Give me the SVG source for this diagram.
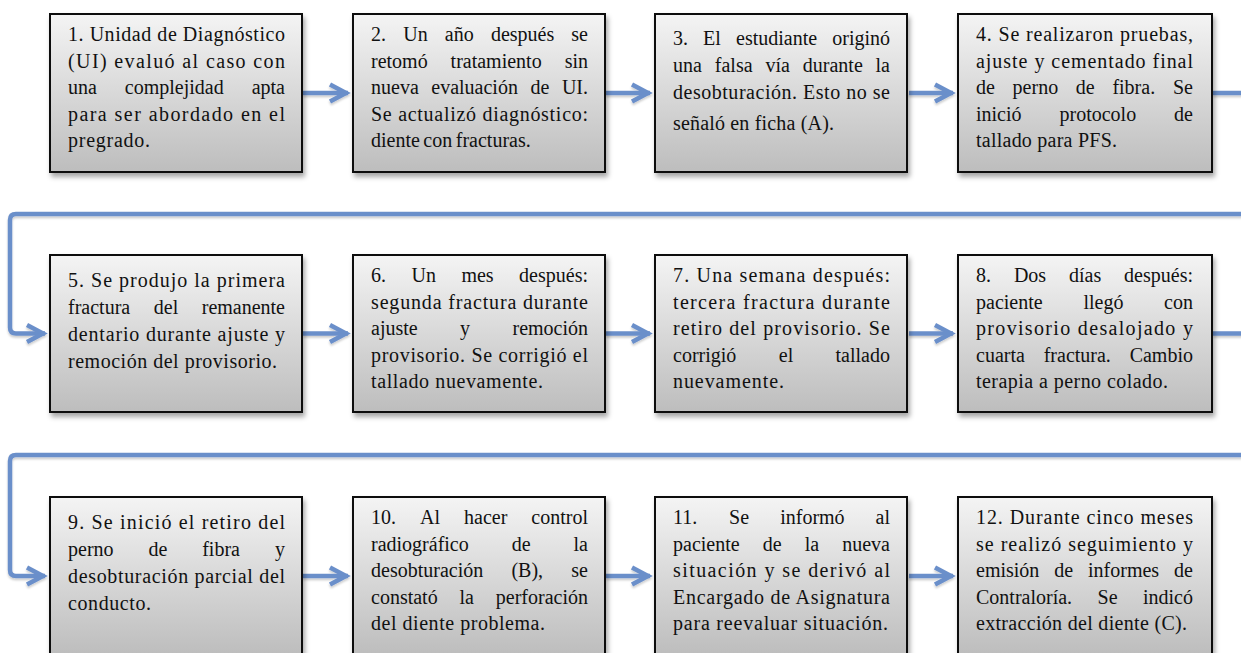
<svg xmlns="http://www.w3.org/2000/svg" width="1241" height="653" viewBox="0 0 1241 653">
<style>
.box{fill:url(#g);stroke:#111;stroke-width:2;filter:url(#sh)}
.t{font-family:"Liberation Serif","Times New Roman",serif;font-size:20px;fill:#111}
.e{text-anchor:end}
.c{fill:none;stroke:#6b8fca;stroke-width:4.5;stroke-linejoin:round}
</style>
<defs>
<linearGradient id="g" x1="0" y1="0" x2="0" y2="1">
<stop offset="0" stop-color="#f4f4f4"/>
<stop offset="1" stop-color="#bdbdbd"/>
</linearGradient>
<filter id="sh" x="-10%" y="-10%" width="120%" height="125%">
<feDropShadow dx="2" dy="4" stdDeviation="2.5" flood-color="#000" flood-opacity="0.35"/>
</filter>
<filter id="lsh" x="-5%" y="-20%" width="110%" height="140%">
<feDropShadow dx="0" dy="2" stdDeviation="1" flood-color="#000" flood-opacity="0.2"/>
</filter>
<marker id="ah" markerUnits="userSpaceOnUse" markerWidth="26" markerHeight="24" viewBox="0 0 26 24" refX="20" refY="12" orient="auto" overflow="visible">
<path d="M2,3.5 L18,12 L2,20.5" fill="none" stroke="#6b8fca" stroke-width="4.5"/>
</marker>
</defs>
<rect width="1241" height="653" fill="#fff"/>

<g id="connectors" filter="url(#lsh)">
<path class="c" d="M303,93 H348" marker-end="url(#ah)"/>
<path class="c" d="M606,93 H650" marker-end="url(#ah)"/>
<path class="c" d="M909,93 H953" marker-end="url(#ah)"/>
<path class="c" d="M1213,93 H1256 V214 H16 Q10,214 10,220 V327.5 Q10,333.5 16,333.5 H45" marker-end="url(#ah)"/>
<path class="c" d="M303,333.5 H348" marker-end="url(#ah)"/>
<path class="c" d="M606,333.5 H650" marker-end="url(#ah)"/>
<path class="c" d="M909,333.5 H953" marker-end="url(#ah)"/>
<path class="c" d="M1213,333.5 H1256 V455 H16 Q10,455 10,461 V570 Q10,576 16,576 H45" marker-end="url(#ah)"/>
<path class="c" d="M303,576 H348" marker-end="url(#ah)"/>
<path class="c" d="M606,576 H650" marker-end="url(#ah)"/>
<path class="c" d="M909,576 H953" marker-end="url(#ah)"/>
</g>

<g id="n1">
<rect class="box" x="50" y="14" width="252" height="158"/>
<text class="t" x="68" y="41" textLength="217" lengthAdjust="spacing">1. Unidad de Diagnóstico</text>
<text class="t" x="68" y="67.5" textLength="217" lengthAdjust="spacing">(UI) evaluó al caso con</text>
<text class="t" x="68" y="94">una</text><text class="t" x="124.8" y="94">complejidad</text><text class="t e" x="285" y="94">apta</text>
<text class="t" x="68" y="120.5" textLength="217" lengthAdjust="spacing">para ser abordado en el</text>
<text class="t" x="68" y="147" textLength="82" lengthAdjust="spacing">pregrado.</text>
</g>

<g id="n2">
<rect class="box" x="353" y="14" width="252" height="158"/>
<text class="t" x="371" y="41">2.</text><text class="t" x="403.2" y="41">Un</text><text class="t" x="444.8" y="41">año</text><text class="t" x="490.9" y="41">después</text><text class="t e" x="588" y="41">se</text>
<text class="t" x="371" y="67.5">retomó</text><text class="t" x="450.6" y="67.5">tratamiento</text><text class="t e" x="588" y="67.5">sin</text>
<text class="t" x="371" y="94">nueva</text><text class="t" x="431.3" y="94">evaluación</text><text class="t" x="530.4" y="94">de</text><text class="t e" x="588" y="94">UI.</text>
<text class="t" x="371" y="120.5" textLength="217" lengthAdjust="spacing">Se actualizó diagnóstico:</text>
<text class="t" x="371" y="147" style="word-spacing:-1.5px">diente con fracturas.</text>
</g>

<g id="n3">
<rect class="box" x="655" y="14" width="252" height="158"/>
<text class="t" x="673" y="45">3.</text><text class="t" x="703.1" y="45">El</text><text class="t" x="736" y="45">estudiante</text><text class="t e" x="890" y="45">originó</text>
<text class="t" x="673" y="72">una</text><text class="t" x="714.8" y="72">falsa</text><text class="t" x="765.5" y="72">vía</text><text class="t" x="802.8" y="72">durante</text><text class="t e" x="890" y="72">la</text>
<text class="t" x="673" y="99" textLength="217" lengthAdjust="spacing">desobturación. Esto no se</text>
<text class="t" x="673" y="130" textLength="161" lengthAdjust="spacing">señaló en ficha (A).</text>
</g>

<g id="n4">
<rect class="box" x="958" y="14" width="254" height="158"/>
<text class="t" x="976" y="41" textLength="217" lengthAdjust="spacing">4. Se realizaron pruebas,</text>
<text class="t" x="976" y="67.5" textLength="217" lengthAdjust="spacing">ajuste y cementado final</text>
<text class="t" x="976" y="94">de</text><text class="t" x="1012.6" y="94">perno</text><text class="t" x="1075.8" y="94">de</text><text class="t" x="1112.4" y="94">fibra.</text><text class="t e" x="1193" y="94">Se</text>
<text class="t" x="976" y="120.5">inició</text><text class="t" x="1059.5" y="120.5">protocolo</text><text class="t e" x="1193" y="120.5">de</text>
<text class="t" x="976" y="147" textLength="141" lengthAdjust="spacing">tallado para PFS.</text>
</g>

<g id="n5">
<rect class="box" x="50" y="255" width="252" height="157"/>
<text class="t" x="68" y="287" textLength="217" lengthAdjust="spacing">5. Se produjo la primera</text>
<text class="t" x="68" y="314">fractura</text><text class="t" x="153.8" y="314">del</text><text class="t e" x="285" y="314">remanente</text>
<text class="t" x="68" y="341" textLength="217" lengthAdjust="spacing">dentario durante ajuste y</text>
<text class="t" x="68" y="368" textLength="209" lengthAdjust="spacing">remoción del provisorio.</text>
</g>

<g id="n6">
<rect class="box" x="353" y="255" width="252" height="157"/>
<text class="t" x="371" y="282">6.</text><text class="t" x="411.5" y="282">Un</text><text class="t" x="461.4" y="282">mes</text><text class="t e" x="588" y="282">después:</text>
<text class="t" x="371" y="308.5" textLength="217" lengthAdjust="spacing">segunda fractura durante</text>
<text class="t" x="371" y="335">ajuste</text><text class="t" x="460.1" y="335">y</text><text class="t e" x="588" y="335">remoción</text>
<text class="t" x="371" y="361.5" textLength="217" lengthAdjust="spacing">provisorio. Se corrigió el</text>
<text class="t" x="371" y="388" textLength="172" lengthAdjust="spacing">tallado nuevamente.</text>
</g>

<g id="n7">
<rect class="box" x="655" y="255" width="252" height="157"/>
<text class="t" x="673" y="282" textLength="217" lengthAdjust="spacing">7. Una semana después:</text>
<text class="t" x="673" y="308.5" textLength="217" lengthAdjust="spacing">tercera fractura durante</text>
<text class="t" x="673" y="335" textLength="217" lengthAdjust="spacing">retiro del provisorio. Se</text>
<text class="t" x="673" y="361.5">corrigió</text><text class="t" x="778.8" y="361.5">el</text><text class="t e" x="890" y="361.5">tallado</text>
<text class="t" x="673" y="388" textLength="111" lengthAdjust="spacing">nuevamente.</text>
</g>

<g id="n8">
<rect class="box" x="958" y="255" width="254" height="157"/>
<text class="t" x="976" y="282">8.</text><text class="t" x="1013.9" y="282">Dos</text><text class="t" x="1069" y="282">días</text><text class="t e" x="1193" y="282">después:</text>
<text class="t" x="976" y="308.5">paciente</text><text class="t" x="1083.4" y="308.5">llegó</text><text class="t e" x="1193" y="308.5">con</text>
<text class="t" x="976" y="335" textLength="217" lengthAdjust="spacing">provisorio desalojado y</text>
<text class="t" x="976" y="361.5">cuarta</text><text class="t" x="1043.7" y="361.5">fractura.</text><text class="t e" x="1193" y="361.5">Cambio</text>
<text class="t" x="976" y="388" textLength="192" lengthAdjust="spacing">terapia a perno colado.</text>
</g>

<g id="n9">
<rect class="box" x="50" y="497" width="252" height="158"/>
<text class="t" x="68" y="529" textLength="217" lengthAdjust="spacing">9. Se inició el retiro del</text>
<text class="t" x="68" y="556">perno</text><text class="t" x="148.4" y="556">de</text><text class="t" x="202.2" y="556">fibra</text><text class="t e" x="285" y="556">y</text>
<text class="t" x="68" y="583" textLength="217" lengthAdjust="spacing">desobturación parcial del</text>
<text class="t" x="68" y="610" textLength="83" lengthAdjust="spacing">conducto.</text>
</g>

<g id="n10">
<rect class="box" x="353" y="497" width="252" height="158"/>
<text class="t" x="371" y="524">10.</text><text class="t" x="420" y="524">Al</text><text class="t" x="464" y="524">hacer</text><text class="t e" x="588" y="524">control</text>
<text class="t" x="371" y="550.5">radiográfico</text><text class="t" x="511.7" y="550.5">de</text><text class="t e" x="588" y="550.5">la</text>
<text class="t" x="371" y="577">desobturación</text><text class="t" x="511.4" y="577">(B),</text><text class="t e" x="588" y="577">se</text>
<text class="t" x="371" y="603.5">constató</text><text class="t" x="459.5" y="603.5">la</text><text class="t e" x="588" y="603.5">perforación</text>
<text class="t" x="371" y="630" textLength="174" lengthAdjust="spacing">del diente problema.</text>
</g>

<g id="n11">
<rect class="box" x="655" y="497" width="252" height="158"/>
<text class="t" x="673" y="524">11.</text><text class="t" x="729.1" y="524">Se</text><text class="t" x="780.2" y="524">informó</text><text class="t e" x="890" y="524">al</text>
<text class="t" x="673" y="550.5">paciente</text><text class="t" x="762.7" y="550.5">de</text><text class="t" x="804.7" y="550.5">la</text><text class="t e" x="890" y="550.5">nueva</text>
<text class="t" x="673" y="577" textLength="217" lengthAdjust="spacing">situación y se derivó al</text>
<text class="t" x="673" y="603.5" textLength="217" lengthAdjust="spacing">Encargado de Asignatura</text>
<text class="t" x="673" y="630" textLength="215" lengthAdjust="spacing">para reevaluar situación.</text>
</g>

<g id="n12">
<rect class="box" x="958" y="497" width="254" height="158"/>
<text class="t" x="976" y="524" textLength="217" lengthAdjust="spacing">12. Durante cinco meses</text>
<text class="t" x="976" y="550.5" textLength="217" lengthAdjust="spacing">se realizó seguimiento y</text>
<text class="t" x="976" y="577">emisión</text><text class="t" x="1054.2" y="577">de</text><text class="t" x="1088" y="577">informes</text><text class="t e" x="1193" y="577">de</text>
<text class="t" x="976" y="603.5">Contraloría.</text><text class="t" x="1097.6" y="603.5">Se</text><text class="t e" x="1193" y="603.5">indicó</text>
<text class="t" x="976" y="630" textLength="211" lengthAdjust="spacing">extracción del diente (C).</text>
</g>
</svg>
